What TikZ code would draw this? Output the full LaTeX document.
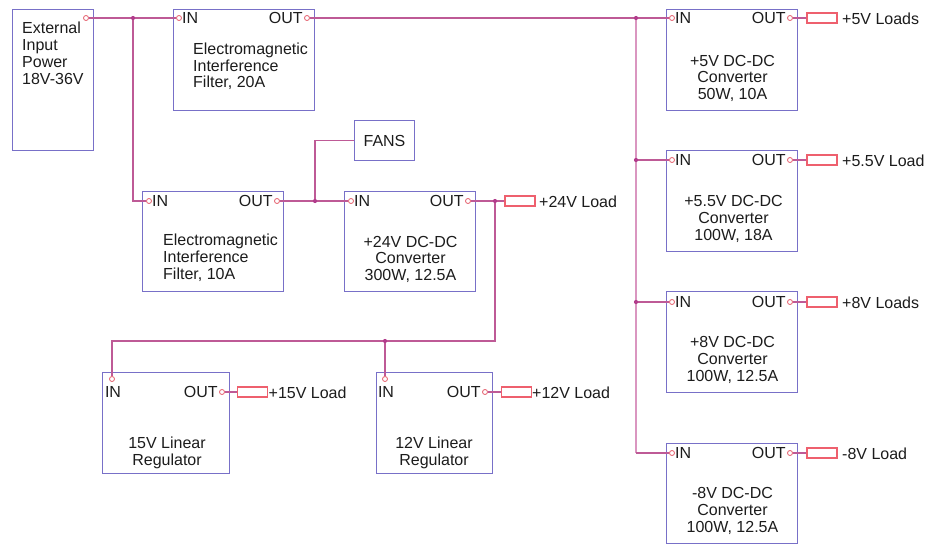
\documentclass[tikz,border=0pt]{standalone}
\usepackage{fontspec}
\setmainfont{Liberation Sans}
\definecolor{boxc}{RGB}{120,112,200}
\definecolor{wirec}{RGB}{190,90,150}
\definecolor{busc}{RGB}{218,150,192}
\definecolor{pinred}{RGB}{228,90,104}
\definecolor{resc}{RGB}{238,96,110}
\definecolor{dotc}{RGB}{178,60,140}
\definecolor{txt}{RGB}{28,28,28}
\begin{document}
\begin{tikzpicture}[x=1pt,y=-1pt,
  box/.style={draw=boxc,line width=1pt,rectangle,anchor=north west,inner sep=0pt},
  pinc/.style={circle,draw=pinred,fill=white,line width=0.8pt,inner sep=0pt,minimum size=5pt},
  wire/.style={draw=wirec,line width=1.2pt},
  bus/.style={draw=busc,line width=2.4pt},
  res/.style={draw=resc,line width=1.1pt,fill=white,rectangle,minimum width=30pt,minimum height=10pt,inner sep=0pt},
  lbl/.style={font=\fontsize{16}{16.8}\selectfont,text=txt,inner sep=0pt},
  jdot/.style={circle,fill=dotc,inner sep=0pt,minimum size=4.2pt}]
\useasboundingbox (0,0) rectangle (927,544);

% ---------- boxes ----------
\node[box,minimum width=81pt,minimum height=141pt] (ext) at (12,9) {};
\node[box,minimum width=141pt,minimum height=101pt] (emi20) at (173,9) {};
\node[box,minimum width=141pt,minimum height=100pt] (emi10) at (142.3,190.7) {};
\node[box,minimum width=60pt,minimum height=40pt] (fans) at (354,120) {};
\node[box,minimum width=131pt,minimum height=100pt] (c24) at (344,190.7) {};
\node[box,minimum width=127pt,minimum height=101pt] (r15) at (102,372) {};
\node[box,minimum width=116pt,minimum height=101pt] (r12) at (376,372) {};
\node[box,minimum width=131pt,minimum height=101pt] (c5) at (666,9) {};
\node[box,minimum width=131pt,minimum height=101pt] (c55) at (666,150) {};
\node[box,minimum width=131pt,minimum height=101pt] (c8) at (666,291) {};
\node[box,minimum width=131pt,minimum height=99.5pt] (cm8) at (666,443) {};

% ---------- box texts ----------
\node[lbl,align=left,anchor=north west] at (22,22) {External\\Input\\Power\\18V-36V};
\node[lbl,align=left,anchor=north west] at (193,42.5) {Electromagnetic\\Interference\\Filter, 20A};
\node[lbl,align=left,anchor=north west] at (163,234.2) {Electromagnetic\\Interference\\Filter, 10A};
\node[lbl,anchor=center] at (fans.center) {FANS};
\node[lbl,align=center,anchor=north] at (410.5,235.8) {+24V DC-DC\\Converter\\300W, 12.5A};
\node[lbl,align=center,anchor=north] at (167,436.5) {15V Linear\\Regulator};
\node[lbl,align=center,anchor=north] at (434,436.5) {12V Linear\\Regulator};
\node[lbl,align=center,anchor=north] at (732.5,54.8) {+5V DC-DC\\Converter\\50W, 10A};
\node[lbl,align=center,anchor=north] at (733.5,195.5) {+5.5V DC-DC\\Converter\\100W, 18A};
\node[lbl,align=center,anchor=north] at (732.5,336.5) {+8V DC-DC\\Converter\\100W, 12.5A};
\node[lbl,align=center,anchor=north] at (732.5,487.5) {-8V DC-DC\\Converter\\100W, 12.5A};

% ---------- pins ----------
\node[pinc] (extout) at (86,18) {};
\node[pinc] (emi20in) at (179,18) {};
\node[pinc] (emi20out) at (307,18) {};
\node[pinc] (emi10in) at (149,201) {};
\node[pinc] (emi10out) at (277,201) {};
\node[pinc] (c24in) at (351,201) {};
\node[pinc] (c24out) at (468,201) {};
\node[pinc] (r15in) at (112,379) {};
\node[pinc] (r15out) at (222,392) {};
\node[pinc] (r12in) at (385,379) {};
\node[pinc] (r12out) at (485,392) {};
\node[pinc] (c5in) at (672,18) {};
\node[pinc] (c5out) at (790,18) {};
\node[pinc] (c55in) at (672,160) {};
\node[pinc] (c55out) at (790,160) {};
\node[pinc] (c8in) at (672,302) {};
\node[pinc] (c8out) at (790,302) {};
\node[pinc] (cm8in) at (672,453) {};
\node[pinc] (cm8out) at (790,453) {};

% ---------- pin labels ----------
\foreach \p in {emi20in,emi10in,c24in,c5in,c55in,c8in,cm8in}
  \node[lbl,anchor=base west] at ([yshift=-5.8pt]\p.east) {IN};
\foreach \p in {emi20out,emi10out,c24out,r15out,r12out,c5out,c55out,c8out,cm8out}
  \node[lbl,anchor=base east] at ([xshift=-1.2pt,yshift=-5.8pt]\p.west) {OUT};
\foreach \p in {r15in,r12in}
  \node[lbl,anchor=base] at ([xshift=1pt,yshift=-18pt]\p.center) {IN};

% ---------- loads ----------
\node[res] (l5) at (822,18) {};
\node[res] (l55) at (822,160) {};
\node[res] (l8) at (822,302) {};
\node[res] (lm8) at (822,453) {};
\node[res] (l24) at (520,201) {};
\node[res] (l15) at (252.5,392) {};
\node[res] (l12) at (516.5,392) {};
\node[lbl,anchor=base west] at (842,24) {+5V Loads};
\node[lbl,anchor=base west] at (842,166) {+5.5V Load};
\node[lbl,anchor=base west] at (842,308) {+8V Loads};
\node[lbl,anchor=base west] at (842,459) {-8V Load};
\node[lbl,anchor=base west] at (539,207) {+24V Load};
\node[lbl,anchor=base west] at (268.5,398) {+15V Load};
\node[lbl,anchor=base west] at (532,398) {+12V Load};

% ---------- junctions ----------
\coordinate (j1) at (133,18);
\coordinate (j2) at (636,18);
\coordinate (j3) at (636,160);
\coordinate (j4) at (636,302);
\coordinate (j5) at (636,453);
\coordinate (jf) at (315,201);
\coordinate (j24) at (495,201);
\coordinate (b24) at (495,341);
\coordinate (jr) at (385,341);

% ---------- wires ----------
\draw[bus] (j2) -- (j5);
\draw[wire] (extout) -- (j1) -- (emi20in);
\draw[wire] (j1) |- (emi10in);
\draw[wire] (emi10out) -- (jf) -- (c24in);
\draw[wire] (jf) |- (fans.west);
\draw[wire] (emi20out) -- (j2) -- (c5in);
\draw[wire] (j3) -- (c55in);
\draw[wire] (j4) -- (c8in);
\draw[wire] (j5) -- (cm8in);
\draw[wire] (c24out) -- (j24) -- (l24);
\draw[wire] (j24) -- (b24) -| (r15in);
\draw[wire] (jr) -- (r12in);
\draw[wire] (r15out) -- (l15);
\draw[wire] (r12out) -- (l12);
\draw[wire] (c5out) -- (l5);
\draw[wire] (c55out) -- (l55);
\draw[wire] (c8out) -- (l8);
\draw[wire] (cm8out) -- (lm8);

\foreach \j in {j1,j2,j3,j4,jf,j24,jr}
  \node[jdot] at (\j) {};
\end{tikzpicture}
\end{document}
